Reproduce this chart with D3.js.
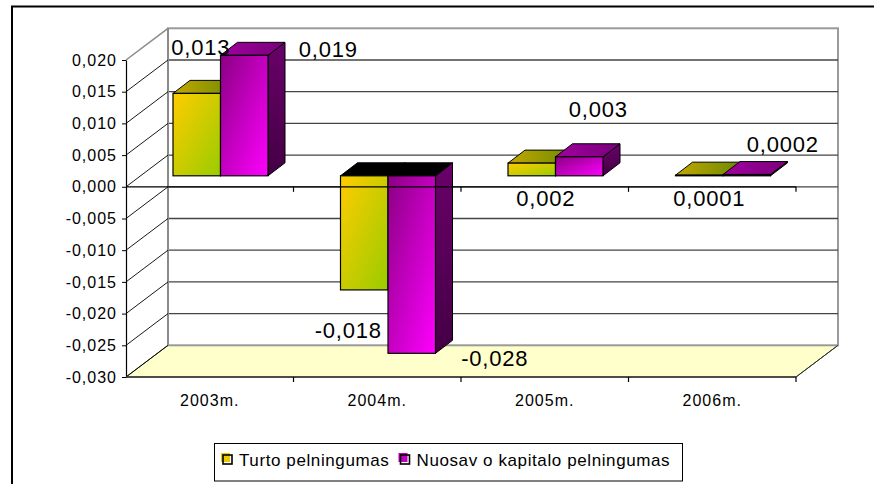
<!DOCTYPE html>
<html>
<head>
<meta charset="utf-8">
<script src="https://cdn.jsdelivr.net/npm/d3@7"></script>
<style>
  html, body { margin: 0; padding: 0; background: #fff; }
  svg { display: block; font-family: "Liberation Sans", Arial, sans-serif; }
</style>
</head>
<body>
<svg id="chart" width="874" height="484"></svg>
<script>
// Categories, series and tick values
const categories = ["2003m.", "2004m.", "2005m.", "2006m."];
const seriesNames = ["Turto pelningumas", "Nuosavo kapitalo pelningumas"];
const legendLabels = ["Turto pelningumas", "Nuosav o kapitalo pelningumas"];
const turto = [0.013, -0.018, 0.002, 0.0001];
const nuosavo = [0.019, -0.028, 0.003, 0.0002];
const yTicks = [-0.03, -0.025, -0.02, -0.015, -0.01, -0.005, 0, 0.005, 0.01, 0.015, 0.02];

// Data label nudges relative to each bar's front-top corner centre (px)
const labelNudgeTurto = [[4, -38], [-16, 48], [14, 43], [10, 31]];
const labelNudgeNuosavo = [[84, 2], [83, 13], [19, -40], [36, -23]];

const svg = d3.select("#chart");
const defs = svg.append("defs");

const locale = d3.formatLocale({decimal: ",", thousands: " ", grouping: [3], currency: ["", ""], minus: "-"});
const fmtTick = locale.format(".3f");
const fmtLabel = v => Math.abs(v) < 0.001 ? locale.format(".4f")(v) : locale.format(".3f")(v);

// Plot geometry: front plane, wall depth, bar plane and bar depth
const y = d3.scaleLinear().domain([-0.03, 0.02]).range([377, 60]);
const x = d3.scaleBand().domain(categories).range([126, 796]);
const sx = d3.scaleBand().domain(seriesNames).range([33, 128]);
const WDX = 42, WDY = 31.7;          // wall depth offset
const BPX = 14, BPY = 11;            // bar front plane offset
const BDX = 17, BDY = 13;            // bar depth

function grad(id, c1, c2, x2 = 1, y2 = 1) {
  const g = defs.append("linearGradient").attr("id", id)
    .attr("x1", 0).attr("y1", 0).attr("x2", x2).attr("y2", y2);
  g.append("stop").attr("offset", "0%").attr("stop-color", c1);
  g.append("stop").attr("offset", "100%").attr("stop-color", c2);
}
grad("yFront", "#FFCC00", "#99CC00");
grad("yTop", "#C2A800", "#6E8A00", 1, 0);
grad("ySide", "#8A8A00", "#5E6E00");
grad("pFront", "#8A0082", "#FF00FF");
grad("pTop", "#A000A0", "#7A007A", 1, 0);
grad("pSide", "#6A006A", "#440044", 0, 1);

const styles = [
  {front: "url(#yFront)", top: "url(#yTop)", side: "url(#ySide)"},
  {front: "url(#pFront)", top: "url(#pTop)", side: "url(#pSide)"}
];

// Outer frame
svg.append("rect").attr("x", 12).attr("y", 6.5).attr("width", 900).attr("height", 520)
  .attr("fill", "none").attr("stroke", "#000").attr("stroke-width", 2);

const x0 = x.range()[0], x1 = x.range()[1];
const yTop = y(0.02), yBot = y(-0.03);

// Floor
svg.append("polygon")
  .attr("points", [[x0, yBot], [x0 + WDX, yBot - WDY], [x1 + WDX, yBot - WDY], [x1, yBot]].join(" "))
  .attr("fill", "#FFFFCC").attr("stroke", "#333").attr("stroke-width", 1);

// Back wall
svg.append("rect").attr("x", x0 + WDX).attr("y", yTop - WDY)
  .attr("width", x1 - x0).attr("height", yBot - yTop)
  .attr("fill", "#fff").attr("stroke", "#9a9a9a").attr("stroke-width", 2);

// Back wall gridlines
svg.append("g").selectAll("line")
  .data(yTicks.filter(t => t > -0.03 && t < 0.02))
  .join("line")
  .attr("x1", x0 + WDX).attr("x2", x1 + WDX)
  .attr("y1", d => y(d) - WDY).attr("y2", d => y(d) - WDY)
  .attr("stroke", "#444").attr("stroke-width", 1.3);

// Side wall: back edge and depth lines
svg.append("line").attr("x1", x0 + WDX).attr("x2", x0 + WDX)
  .attr("y1", yTop - WDY).attr("y2", yBot - WDY)
  .attr("stroke", "#8a8a8a").attr("stroke-width", 2);
svg.append("g").selectAll("line")
  .data(yTicks)
  .join("line")
  .attr("x1", x0).attr("y1", d => y(d))
  .attr("x2", x0 + WDX).attr("y2", d => y(d) - WDY)
  .attr("stroke", d => d === 0.02 ? "#8a8a8a" : "#000")
  .attr("stroke-width", d => d === 0.02 ? 1.5 : 0.9);

// Bars
const seriesData = [turto, nuosavo];
const bars = [];
categories.forEach((c, i) => {
  seriesNames.forEach((s, k) => {
    const v = seriesData[k][i];
    const bx = x(c) + BPX + sx(s);
    const w = sx.bandwidth();
    const yv = y(v) - BPY, y0 = y(0) - BPY;
    const t = Math.min(yv, y0), b = Math.max(yv, y0);
    bars.push({v, bx, w, t, b, k, i});
  });
});

const gBars = svg.append("g");
bars.forEach(d => {
  const st = styles[d.k];
  const g = gBars.append("g");
  // side face
  g.append("polygon")
    .attr("points", [[d.bx + d.w, d.t], [d.bx + d.w + BDX, d.t - BDY], [d.bx + d.w + BDX, d.b - BDY], [d.bx + d.w, d.b]].join(" "))
    .attr("fill", st.side).attr("stroke", "#000").attr("stroke-width", 1);
  // top face
  g.append("polygon")
    .attr("points", [[d.bx, d.t], [d.bx + BDX, d.t - BDY], [d.bx + d.w + BDX, d.t - BDY], [d.bx + d.w, d.t]].join(" "))
    .attr("fill", d.v < 0 ? "#000" : st.top).attr("stroke", "#000").attr("stroke-width", 1);
  // front face
  g.append("rect")
    .attr("x", d.bx).attr("y", d.t).attr("width", d.w).attr("height", Math.max(d.b - d.t, 0.5))
    .attr("fill", st.front).attr("stroke", "#000").attr("stroke-width", 1.2);
});

// Front value axis
const yAxis = d3.axisLeft(y).tickValues(yTicks).tickSize(4).tickSizeOuter(0).tickPadding(5).tickFormat(fmtTick);
const gy = svg.append("g").attr("transform", `translate(${x0},0)`).call(yAxis);
gy.select(".domain").attr("stroke", "#000").attr("stroke-width", 1.2);
gy.selectAll(".tick line").attr("stroke", "#000");
gy.selectAll(".tick text").attr("font-size", 16).attr("letter-spacing", "1px")
  .attr("font-family", "Liberation Sans, Arial, sans-serif").attr("fill", "#000");

// Category boundary ticks (floor edge and zero level)
const bounds = categories.map(c => x(c)).concat([x1]);
[yBot, y(0)].forEach((yy, j) => {
  svg.append("line").attr("x1", x0).attr("x2", x1).attr("y1", yy).attr("y2", yy)
    .attr("stroke", j === 0 ? "#333" : "#000").attr("stroke-width", j === 0 ? 1.5 : 1.2);
  svg.append("g").selectAll("line").data(bounds.slice(1)).join("line")
    .attr("x1", d => d).attr("x2", d => d).attr("y1", yy).attr("y2", yy + 5)
    .attr("stroke", "#000").attr("stroke-width", 1.2);
});
svg.append("line").attr("x1", x1).attr("y1", yBot).attr("x2", x1 + WDX).attr("y2", yBot - WDY)
  .attr("stroke", "#333").attr("stroke-width", 1);

// Category labels
const xAxis = d3.axisBottom(x).tickSize(0).tickPadding(0);
const gx = svg.append("g").attr("transform", `translate(0,${yBot})`).call(xAxis);
gx.select(".domain").remove();
gx.selectAll(".tick text").attr("y", 29).attr("dy", null)
  .attr("font-size", 16).attr("letter-spacing", "1px")
  .attr("font-family", "Liberation Sans, Arial, sans-serif").attr("fill", "#000");

// Data labels
const nudges = [labelNudgeTurto, labelNudgeNuosavo];
svg.append("g").selectAll("text")
  .data(bars)
  .join("text")
  .attr("x", d => d.bx + d.w / 2 + nudges[d.k][d.i][0])
  .attr("y", d => y(d.v) - BPY + nudges[d.k][d.i][1])
  .attr("text-anchor", "middle")
  .attr("font-size", 22).attr("letter-spacing", "0.8px")
  .attr("fill", "#000")
  .text(d => fmtLabel(d.v));

// Legend
const lg = svg.append("g");
lg.append("rect").attr("x", 214.5).attr("y", 443.5).attr("width", 468).attr("height", 37.5)
  .attr("fill", "#fff").attr("stroke", "#000").attr("stroke-width", 1);
const legendX = [221, 398.5];
const swatchFill = ["#E8C800", "#C000C0"];
legendLabels.forEach((lab, k) => {
  const lx = legendX[k];
  lg.append("rect").attr("x", lx).attr("y", 453).attr("width", 9).attr("height", 9)
    .attr("fill", swatchFill[k]);
  lg.append("rect").attr("x", lx + 2).attr("y", 455).attr("width", 9).attr("height", 9)
    .attr("fill", "none").attr("stroke", "#000").attr("stroke-width", 1.6);
  lg.append("text").attr("x", lx + 18).attr("y", 466)
    .attr("font-size", 17).attr("letter-spacing", "0.6px").attr("fill", "#000")
    .text(lab);
});
</script>
</body>
</html>
